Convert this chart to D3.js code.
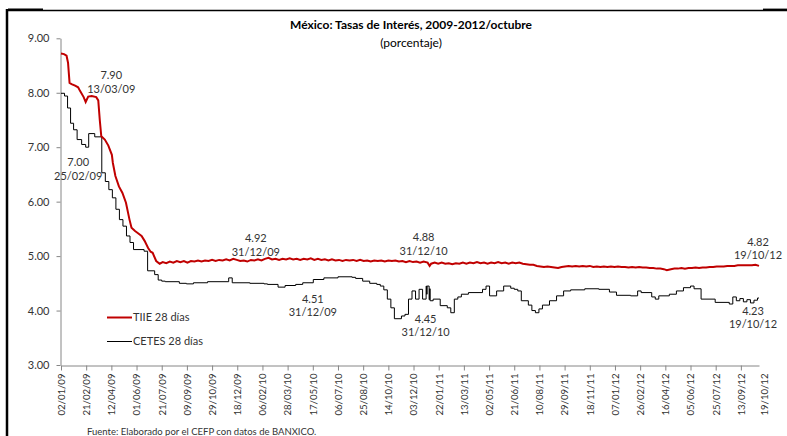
<!DOCTYPE html>
<html>
<head>
<meta charset="utf-8">
<script src="https://cdn.jsdelivr.net/npm/d3@7"></script>
<style>
  body { margin: 0; background: #fff; }
  svg { display: block; font-family: Lato, "Open Sans", sans-serif; }
</style>
</head>
<body>
<svg id="chart" width="787" height="436"></svg>
<script>
// TIIE 28 dias
const tiie = [
  ["02/01/09", 8.72], ["08/01/09", 8.71], ["13/01/09", 8.68], ["16/01/09", 8.55], ["19/01/09", 8.18],
  ["23/01/09", 8.16], ["30/01/09", 8.13], ["05/02/09", 8.10], ["09/02/09", 8.03], ["16/02/09", 7.92],
  ["20/02/09", 7.83], ["25/02/09", 7.93], ["04/03/09", 7.94], ["13/03/09", 7.92], ["17/03/09", 7.86],
  ["20/03/09", 7.50], ["23/03/09", 7.20], ["30/03/09", 7.14], ["06/04/09", 7.03], ["13/04/09", 6.86],
  ["15/04/09", 6.71], ["20/04/09", 6.47], ["27/04/09", 6.28], ["04/05/09", 6.16], ["11/05/09", 5.98],
  ["18/05/09", 5.67], ["22/05/09", 5.52], ["29/05/09", 5.46], ["04/06/09", 5.42], ["11/06/09", 5.37],
  ["17/06/09", 5.28], ["24/06/09", 5.15], ["29/06/09", 5.08], ["03/07/09", 5.06], ["10/07/09", 4.91],
  ["17/07/09", 4.86], ["23/07/09", 4.89], ["30/07/09", 4.87], ["06/08/09", 4.90], ["13/08/09", 4.88],
  ["20/08/09", 4.91], ["27/08/09", 4.89], ["03/09/09", 4.91], ["10/09/09", 4.88], ["17/09/09", 4.91],
  ["24/09/09", 4.90], ["01/10/09", 4.92], ["08/10/09", 4.90], ["15/10/09", 4.92], ["22/10/09", 4.91],
  ["29/10/09", 4.93], ["05/11/09", 4.91], ["12/11/09", 4.93], ["19/11/09", 4.92], ["26/11/09", 4.94],
  ["03/12/09", 4.92], ["10/12/09", 4.95], ["17/12/09", 4.93], ["24/12/09", 4.91], ["31/12/09", 4.92],
  ["07/01/10", 4.90], ["14/01/10", 4.93], ["21/01/10", 4.92], ["28/01/10", 4.94], ["04/02/10", 4.92],
  ["11/02/10", 4.95], ["18/02/10", 4.97], ["25/02/10", 4.94], ["04/03/10", 4.95], ["11/03/10", 4.93],
  ["18/03/10", 4.95], ["25/03/10", 4.94], ["01/04/10", 4.96], ["08/04/10", 4.94], ["15/04/10", 4.95],
  ["22/04/10", 4.93], ["29/04/10", 4.95], ["06/05/10", 4.94], ["13/05/10", 4.96], ["20/05/10", 4.93],
  ["27/05/10", 4.95], ["03/06/10", 4.93], ["10/06/10", 4.94], ["17/06/10", 4.92], ["24/06/10", 4.94],
  ["01/07/10", 4.92], ["08/07/10", 4.93], ["15/07/10", 4.91], ["22/07/10", 4.93], ["29/07/10", 4.92],
  ["05/08/10", 4.93], ["12/08/10", 4.91], ["19/08/10", 4.93], ["26/08/10", 4.91], ["02/09/10", 4.92],
  ["09/09/10", 4.90], ["16/09/10", 4.92], ["23/09/10", 4.91], ["30/09/10", 4.92], ["07/10/10", 4.90],
  ["14/10/10", 4.92], ["21/10/10", 4.91], ["28/10/10", 4.92], ["04/11/10", 4.90], ["11/11/10", 4.91],
  ["18/11/10", 4.89], ["25/11/10", 4.91], ["02/12/10", 4.89], ["09/12/10", 4.90], ["16/12/10", 4.88],
  ["23/12/10", 4.90], ["31/12/10", 4.88], ["04/01/11", 4.82], ["07/01/11", 4.86], ["14/01/11", 4.88],
  ["21/01/11", 4.86], ["28/01/11", 4.88], ["04/02/11", 4.86], ["11/02/11", 4.87], ["18/02/11", 4.85],
  ["25/02/11", 4.87], ["04/03/11", 4.86], ["11/03/11", 4.88], ["18/03/11", 4.86], ["25/03/11", 4.88],
  ["01/04/11", 4.87], ["08/04/11", 4.89], ["15/04/11", 4.87], ["22/04/11", 4.88], ["29/04/11", 4.86],
  ["06/05/11", 4.88], ["13/05/11", 4.87], ["20/05/11", 4.89], ["27/05/11", 4.87], ["03/06/11", 4.88],
  ["10/06/11", 4.86], ["17/06/11", 4.88], ["24/06/11", 4.87], ["01/07/11", 4.88], ["08/07/11", 4.86],
  ["15/07/11", 4.85], ["22/07/11", 4.84], ["29/07/11", 4.84], ["05/08/11", 4.82], ["12/08/11", 4.81],
  ["19/08/11", 4.80], ["26/08/11", 4.81], ["02/09/11", 4.80], ["09/09/11", 4.79], ["16/09/11", 4.78],
  ["23/09/11", 4.80], ["30/09/11", 4.81], ["07/10/11", 4.82], ["14/10/11", 4.81], ["21/10/11", 4.82],
  ["28/10/11", 4.81], ["04/11/11", 4.82], ["11/11/11", 4.81], ["18/11/11", 4.82], ["25/11/11", 4.80],
  ["02/12/11", 4.81], ["09/12/11", 4.80], ["16/12/11", 4.81], ["23/12/11", 4.80], ["30/12/11", 4.81],
  ["06/01/12", 4.80], ["13/01/12", 4.81], ["20/01/12", 4.80], ["27/01/12", 4.80], ["03/02/12", 4.79],
  ["10/02/12", 4.80], ["17/02/12", 4.79], ["24/02/12", 4.80], ["02/03/12", 4.79], ["09/03/12", 4.79],
  ["16/03/12", 4.78], ["23/03/12", 4.78], ["30/03/12", 4.77], ["06/04/12", 4.77], ["13/04/12", 4.76],
  ["19/04/12", 4.74], ["27/04/12", 4.76], ["04/05/12", 4.77], ["11/05/12", 4.77], ["18/05/12", 4.78],
  ["25/05/12", 4.77], ["01/06/12", 4.78], ["08/06/12", 4.78], ["15/06/12", 4.79], ["22/06/12", 4.78],
  ["29/06/12", 4.79], ["06/07/12", 4.79], ["13/07/12", 4.80], ["20/07/12", 4.80], ["27/07/12", 4.81],
  ["03/08/12", 4.81], ["10/08/12", 4.81], ["17/08/12", 4.82], ["24/08/12", 4.82], ["31/08/12", 4.82],
  ["07/09/12", 4.83], ["14/09/12", 4.83], ["21/09/12", 4.83], ["28/09/12", 4.83], ["05/10/12", 4.83],
  ["12/10/12", 4.84], ["19/10/12", 4.82]
];

// CETES 28 dias (subastas semanales, en escalon)
const cetes = [
  ["02/01/09", 7.99], ["09/01/09", 7.94], ["15/01/09", 7.72], ["21/01/09", 7.44], ["27/01/09", 7.32],
  ["03/02/09", 7.14], ["12/02/09", 7.05], ["20/02/09", 7.00], ["26/02/09", 7.25], ["10/03/09", 7.19],
  ["24/03/09", 6.53], ["31/03/09", 6.37], ["07/04/09", 6.22], ["14/04/09", 6.07], ["21/04/09", 5.86],
  ["28/04/09", 5.67], ["05/05/09", 5.55], ["12/05/09", 5.37], ["19/05/09", 5.25], ["26/05/09", 5.12],
  ["16/06/09", 5.09], ["23/06/09", 4.73], ["07/07/09", 4.66], ["14/07/09", 4.56], ["21/07/09", 4.54],
  ["28/07/09", 4.53], ["25/08/09", 4.50], ["08/09/09", 4.49], ["22/09/09", 4.51], ["20/10/09", 4.53],
  ["01/12/09", 4.60], ["08/12/09", 4.51], ["12/01/10", 4.50], ["09/02/10", 4.49], ["16/02/10", 4.48],
  ["09/03/10", 4.43], ["23/03/10", 4.46], ["13/04/10", 4.48], ["27/04/10", 4.51], ["18/05/10", 4.57],
  ["08/06/10", 4.60], ["06/07/10", 4.62], ["03/08/10", 4.61], ["10/08/10", 4.59], ["24/08/10", 4.54],
  ["07/09/10", 4.50], ["21/09/10", 4.48], ["28/09/10", 4.45], ["05/10/10", 4.38], ["12/10/10", 4.21],
  ["19/10/10", 4.05], ["26/10/10", 3.85], ["09/11/10", 3.90], ["16/11/10", 3.93], ["23/11/10", 4.21],
  ["30/11/10", 4.36], ["07/12/10", 4.21], ["14/12/10", 4.39], ["21/12/10", 4.21], ["28/12/10", 4.45],
  ["29/12/10", 4.30], ["30/12/10", 4.45], ["03/01/11", 4.20], ["04/01/11", 4.40], ["05/01/11", 4.18],
  ["11/01/11", 4.21], ["25/01/11", 4.09], ["08/02/11", 4.05], ["15/02/11", 3.96], ["22/02/11", 4.21],
  ["01/03/11", 4.25], ["08/03/11", 4.30], ["22/03/11", 4.33], ["19/04/11", 4.39], ["26/04/11", 4.45],
  ["03/05/11", 4.27], ["17/05/11", 4.36], ["31/05/11", 4.45], ["14/06/11", 4.41], ["21/06/11", 4.39],
  ["28/06/11", 4.36], ["05/07/11", 4.18], ["19/07/11", 4.10], ["26/07/11", 4.00], ["02/08/11", 3.96],
  ["09/08/11", 4.03], ["16/08/11", 4.10], ["30/08/11", 4.18], ["13/09/11", 4.27], ["27/09/11", 4.36],
  ["11/10/11", 4.38], ["08/11/11", 4.40], ["06/12/11", 4.39], ["27/12/11", 4.34], ["10/01/12", 4.28],
  ["07/02/12", 4.27], ["21/02/12", 4.36], ["28/02/12", 4.33], ["20/03/12", 4.25], ["27/03/12", 4.21],
  ["03/04/12", 4.27], ["24/04/12", 4.30], ["08/05/12", 4.36], ["22/05/12", 4.42], ["05/06/12", 4.45],
  ["12/06/12", 4.40], ["26/06/12", 4.21], ["24/07/12", 4.15], ["21/08/12", 4.12], ["28/08/12", 4.25],
  ["04/09/12", 4.18], ["11/09/12", 4.22], ["18/09/12", 4.16], ["25/09/12", 4.20], ["02/10/12", 4.14],
  ["09/10/12", 4.19], ["16/10/12", 4.23], ["19/10/12", 4.23]
];

const xTickLabels = [
  "02/01/09", "21/02/09", "12/04/09", "01/06/09", "21/07/09", "09/09/09", "29/10/09", "18/12/09",
  "06/02/10", "28/03/10", "17/05/10", "06/07/10", "25/08/10", "14/10/10", "03/12/10", "22/01/11",
  "13/03/11", "02/05/11", "21/06/11", "10/08/11", "29/09/11", "18/11/11", "07/01/12", "26/02/12",
  "16/04/12", "05/06/12", "25/07/12", "13/09/12", "19/10/12"
];
const yTicks = [3, 4, 5, 6, 7, 8, 9];

const annotations = [
  { value: "7.90", date: "13/03/09" },
  { value: "7.00", date: "25/02/09" },
  { value: "4.92", date: "31/12/09" },
  { value: "4.51", date: "31/12/09" },
  { value: "4.88", date: "31/12/10" },
  { value: "4.45", date: "31/12/10" },
  { value: "4.82", date: "19/10/12" },
  { value: "4.23", date: "19/10/12" }
];
// desplazamiento de cada etiqueta respecto de su punto (px)
const annotationOffsets = [[15, -23], [-10, 15], [12, -22], [69, 16], [-4, -25], [-2, 33], [-1, -24], [-6, 13]];

const parse = d3.utcParse("%d/%m/%y");
const svg = d3.select("#chart");

const x = d3.scaleUtc()
  .domain([parse("02/01/09"), parse("19/10/12")])
  .range([61, 759]);
const y = d3.scaleLinear().domain([3, 9]).range([365, 38.3]);

// marco
svg.append("line").attr("x1", 7).attr("x2", 7).attr("y1", 9).attr("y2", 436)
  .attr("stroke", "#000").attr("stroke-width", 2.5);
svg.append("line").attr("x1", 7).attr("x2", 787).attr("y1", 10.5).attr("y2", 10.5)
  .attr("stroke", "#000").attr("stroke-width", 1.3);
svg.append("line").attr("x1", 8).attr("x2", 43).attr("y1", 9.3).attr("y2", 9.3)
  .attr("stroke", "#000").attr("stroke-width", 1.8);
svg.append("line").attr("x1", 763).attr("x2", 787).attr("y1", 9.8).attr("y2", 9.8)
  .attr("stroke", "#000").attr("stroke-width", 2.4);

svg.append("text").attr("x", 411).attr("y", 29).attr("text-anchor", "middle")
  .attr("font-size", 12).attr("font-weight", "bold").attr("fill", "#000")
  .text("México: Tasas de Interés, 2009-2012/octubre");
svg.append("text").attr("x", 411).attr("y", 47).attr("text-anchor", "middle")
  .attr("font-size", 12).attr("fill", "#000")
  .text("(porcentaje)");

const yAxis = svg.append("g").attr("transform", "translate(60.5,0)")
  .call(d3.axisLeft(y).tickValues(yTicks).tickFormat(d3.format(".2f")).tickSize(4).tickSizeOuter(0).tickPadding(7));
const xAxis = svg.append("g").attr("transform", "translate(0,365.5)")
  .call(d3.axisBottom(x).tickValues(xTickLabels.map(parse)).tickFormat(d3.utcFormat("%d/%m/%y"))
    .tickSize(5).tickSizeOuter(0));

[yAxis, xAxis].forEach(a => {
  a.selectAll("path, line").attr("stroke", "#868686");
  a.selectAll("text").attr("fill", "#333").attr("font-family", "Lato, sans-serif");
});
yAxis.selectAll("text").attr("font-size", 11);
xAxis.selectAll("text")
  .attr("font-size", 9.6)
  .attr("text-anchor", "end")
  .attr("transform", "rotate(-90)")
  .attr("x", -8)
  .attr("y", (d, i) => i == xTickLabels.length - 1 ? 5 : 0)
  .attr("dy", "0.35em");
xAxis.selectAll(".tick line").filter((d, i) => i == xTickLabels.length - 1).remove();

const line = d3.line().x(d => x(parse(d[0]))).y(d => y(d[1]));

svg.append("path").datum(cetes)
  .attr("d", line.curve(d3.curveStepAfter))
  .attr("fill", "none").attr("stroke", "#000").attr("stroke-width", 1);
svg.append("path").datum(tiie)
  .attr("d", line.curve(d3.curveLinear))
  .attr("fill", "none").attr("stroke", "#c00000").attr("stroke-width", 2);

const ann = svg.append("g").attr("font-size", 11).attr("fill", "#333").attr("text-anchor", "middle");
annotations.forEach((a, i) => {
  const px = x(parse(a.date)) + annotationOffsets[i][0];
  const py = y(+a.value) + annotationOffsets[i][1];
  ann.append("text").attr("x", px).attr("y", py).attr("dy", "0.35em").text(a.value);
  ann.append("text").attr("x", px).attr("y", py + 13.5).attr("dy", "0.35em").text(a.date);
});

// leyenda
const legend = [["TIIE 28 días", "#c00000", 2], ["CETES 28 días", "#000", 1]];
const lg = svg.append("g").attr("transform", "translate(107,317.5)");
legend.forEach((l, i) => {
  lg.append("line").attr("x1", 0).attr("x2", 25).attr("y1", i * 24).attr("y2", i * 24)
    .attr("stroke", l[1]).attr("stroke-width", l[2]);
  lg.append("text").attr("x", 26).attr("y", i * 24).attr("dy", "0.35em")
    .attr("font-size", 11).attr("fill", "#333").text(l[0]);
});

svg.append("text").attr("x", 87).attr("y", 434.5)
  .attr("font-size", 9.5).attr("fill", "#333")
  .text("Fuente: Elaborado por el CEFP con datos de BANXICO.");
</script>
</body>
</html>
